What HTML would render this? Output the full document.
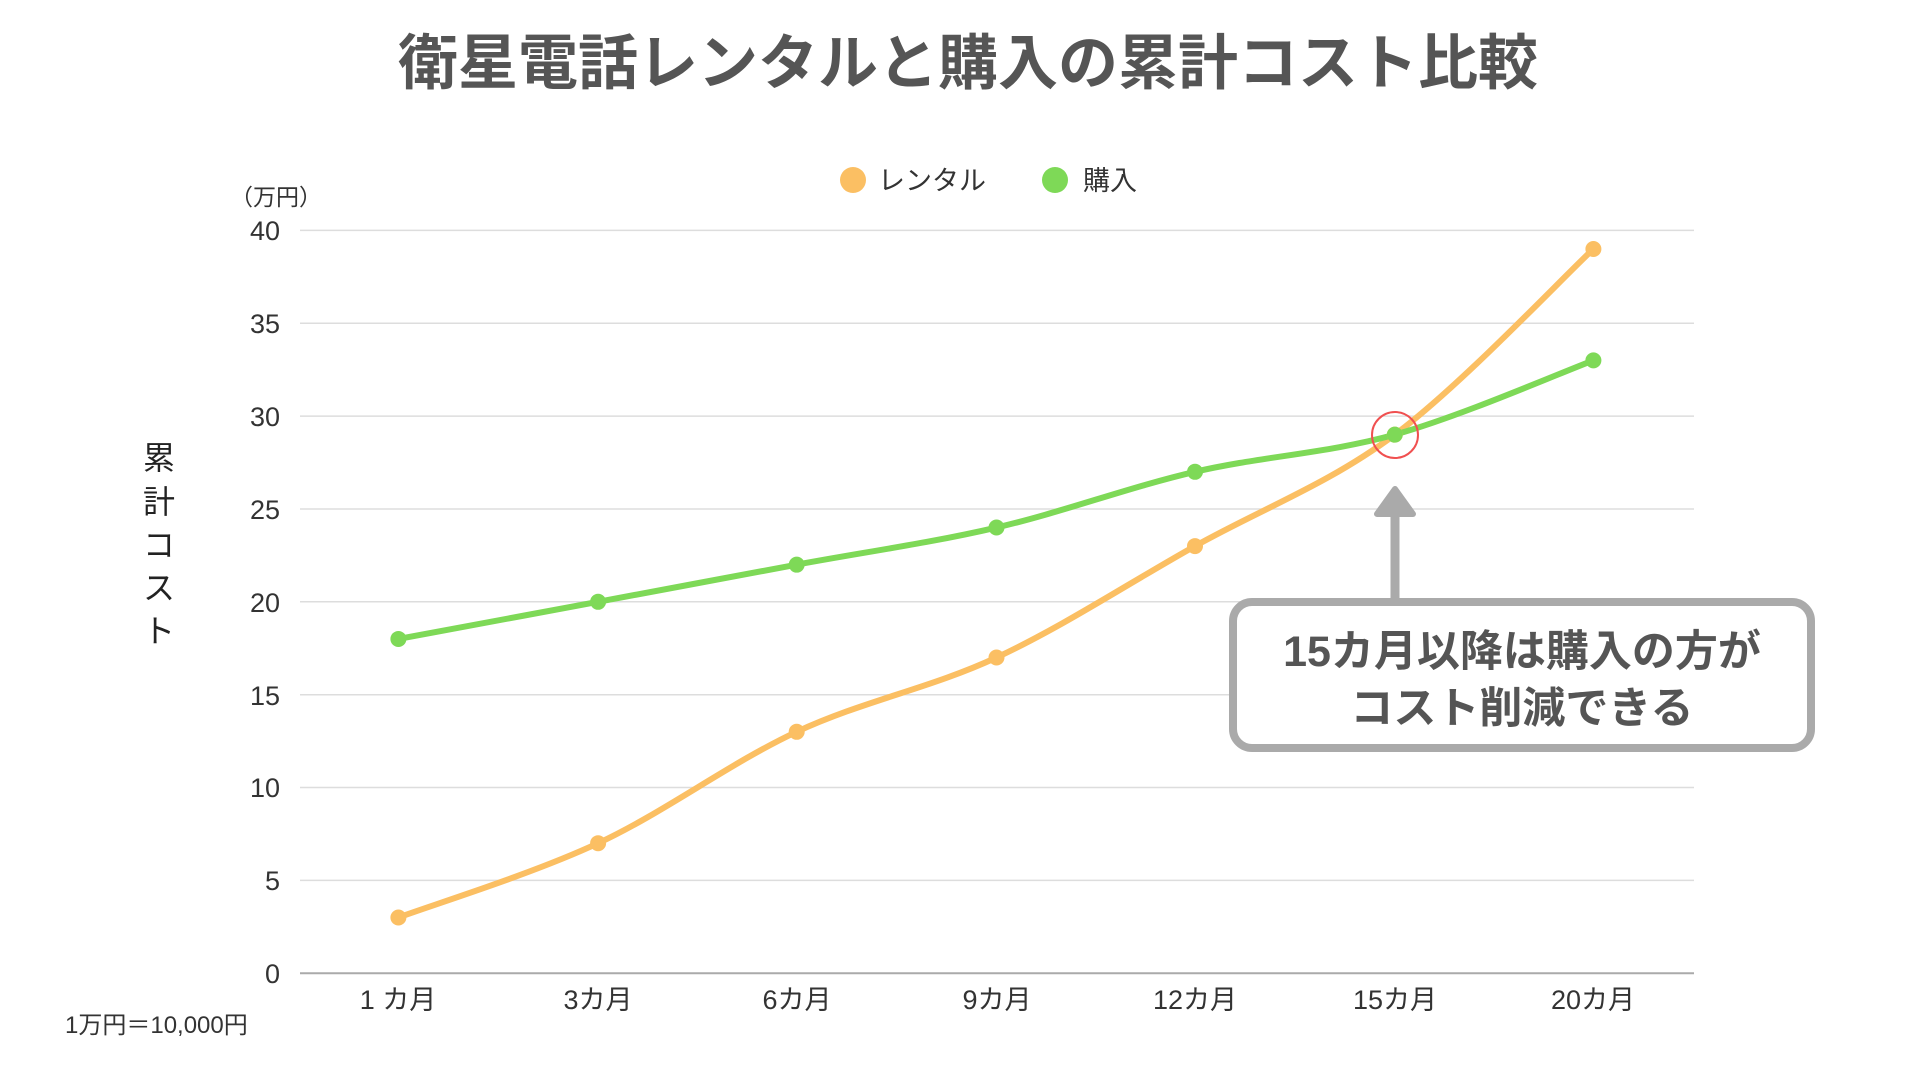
<!DOCTYPE html>
<html><head><meta charset="utf-8"><style>
html,body{margin:0;padding:0;background:#fff;width:1920px;height:1080px;overflow:hidden}
svg{display:block}
text{font-family:"Liberation Sans","Noto Sans CJK JP",sans-serif}
</style></head><body>
<svg width="1920" height="1080" viewBox="0 0 1920 1080" xmlns="http://www.w3.org/2000/svg">
<text x="968" y="84" text-anchor="middle" font-size="60" font-weight="bold" fill="#555">衛星電話レンタルと購入の累計コスト比較</text>
<circle cx="853" cy="180" r="13" fill="#fbbf63"/>
<text x="878" y="190" font-size="27" fill="#333">レンタル</text>
<circle cx="1055" cy="180" r="13" fill="#7ed957"/>
<text x="1083" y="190" font-size="27" fill="#333">購入</text>
<text x="230" y="205" font-size="23" fill="#333">（万円）</text>
<g stroke="#ddd" stroke-width="1.5">
<line x1="300" x2="1694" y1="230.4" y2="230.4"/><line x1="300" x2="1694" y1="323.3" y2="323.3"/>
<line x1="300" x2="1694" y1="416.1" y2="416.1"/><line x1="300" x2="1694" y1="509" y2="509"/>
<line x1="300" x2="1694" y1="601.8" y2="601.8"/><line x1="300" x2="1694" y1="694.7" y2="694.7"/>
<line x1="300" x2="1694" y1="787.5" y2="787.5"/><line x1="300" x2="1694" y1="880.4" y2="880.4"/>
</g>
<line x1="300" x2="1694" y1="973.2" y2="973.2" stroke="#aaa" stroke-width="2"/>
<g font-size="27" fill="#333" text-anchor="end">
<text x="280" y="240">40</text><text x="280" y="333">35</text><text x="280" y="426">30</text>
<text x="280" y="519">25</text><text x="280" y="612">20</text><text x="280" y="705">15</text>
<text x="280" y="797">10</text><text x="280" y="890">5</text><text x="280" y="983">0</text>
</g>
<g font-size="27" fill="#333" text-anchor="middle">
<text x="398" y="1009">1 カ月</text><text x="598" y="1009">3カ月</text><text x="797" y="1009">6カ月</text>
<text x="997" y="1009">9カ月</text><text x="1195" y="1009">12カ月</text><text x="1395" y="1009">15カ月</text>
<text x="1593" y="1009">20カ月</text>
</g>
<g font-size="32" fill="#222" text-anchor="middle">
<text x="159" y="469">累</text><text x="159" y="513">計</text><text x="159" y="556">コ</text><text x="159" y="599">ス</text><text x="159" y="642">ト</text>
</g>
<text x="65" y="1033" font-size="24" fill="#333">1万円＝10,000円</text>
<path id="rent" fill="none" stroke="#fbbf63" stroke-width="6" stroke-linecap="round"/>
<path id="buy" fill="none" stroke="#7ed957" stroke-width="6" stroke-linecap="round"/>
<g id="dots"></g>
<circle cx="1395" cy="435" r="23" fill="none" stroke="#f05050" stroke-width="2"/>
<line x1="1395" y1="598" x2="1395" y2="512" stroke="#aaa" stroke-width="9"/>
<polygon points="1377,514 1413,514 1395,489" fill="#aaa" stroke="#aaa" stroke-width="6" stroke-linejoin="round"/>
<rect x="1233" y="602" width="578" height="146" rx="19" fill="#fff" stroke="#aaa" stroke-width="8"/>
<text x="1522" y="666" text-anchor="middle" font-size="43" font-weight="bold" fill="#555">15カ月以降は購入の方が</text>
<text x="1522" y="723" text-anchor="middle" font-size="43" font-weight="bold" fill="#555">コスト削減できる</text>
</svg>
<script>
const xs=[398.4,598.1,796.7,996.5,1195,1394.8,1593.4];
const y=v=>973.2-v*18.57;
function path(vals){const p=vals.map((v,i)=>[xs[i],y(v)]);let d=`M${p[0]}`;
for(let i=0;i<p.length-1;i++){const p0=p[i-1]||p[i],p1=p[i],p2=p[i+1],p3=p[i+2]||p2;const t=6;
d+=` C${p1[0]+(p2[0]-p0[0])/t},${p1[1]+(p2[1]-p0[1])/t} ${p2[0]-(p3[0]-p1[0])/t},${p2[1]-(p3[1]-p1[1])/t} ${p2[0]},${p2[1]}`;}return d;}
const r=[3,7,13,17,23,29,39],b=[18,20,22,24,27,29,33];
document.getElementById('rent').setAttribute('d',path(r));
document.getElementById('buy').setAttribute('d',path(b));
let s='';r.forEach((v,i)=>s+=`<circle cx="${xs[i]}" cy="${y(v)}" r="8" fill="#fbbf63"/>`);
b.forEach((v,i)=>s+=`<circle cx="${xs[i]}" cy="${y(v)}" r="8" fill="#7ed957"/>`);
document.getElementById('dots').innerHTML=s;
</script>
</body></html>
